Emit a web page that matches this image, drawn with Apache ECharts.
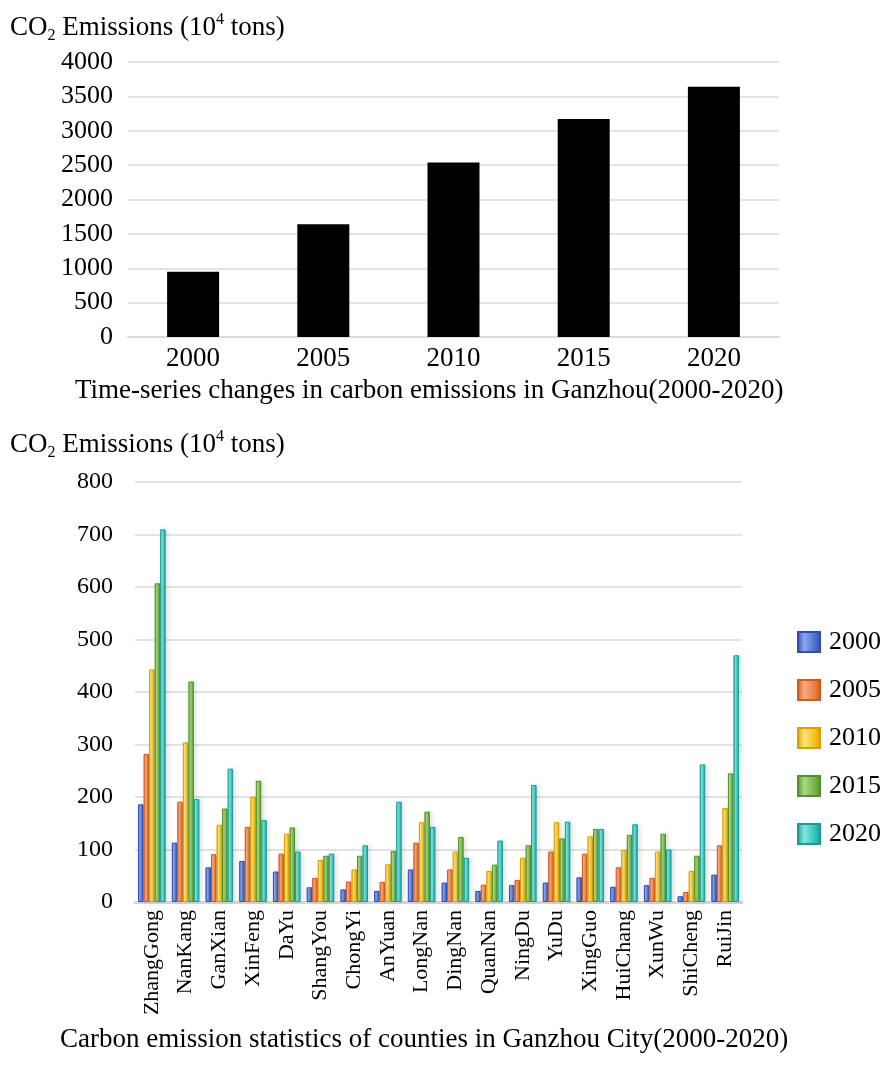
<!DOCTYPE html>
<html>
<head>
<meta charset="utf-8">
<script src="https://cdn.jsdelivr.net/npm/echarts@6/dist/echarts.min.js"></script>
<style>
  html, body { margin: 0; padding: 0; background: #ffffff; }
  #chart { width: 884px; height: 1066px; }
</style>
</head>
<body>
<div id="chart"></div>
<script>
// Ganzhou city totals, 2000-2020 (10^4 tons)
const years = ['2000', '2005', '2010', '2015', '2020'];
const cityTotals = [950, 1640, 2540, 3170, 3640];

// County-level emissions by year (10^4 tons)
const counties = ['ZhangGong', 'NanKang', 'GanXian', 'XinFeng', 'DaYu', 'ShangYou', 'ChongYi',
  'AnYuan', 'LongNan', 'DingNan', 'QuanNan', 'NingDu', 'YuDu', 'XingGuo', 'HuiChang',
  'XunWu', 'ShiCheng', 'RuiJin'];
const e2000 = [186, 113, 66, 78, 58, 28, 24, 21, 62, 37, 21, 32, 37, 47, 29, 32, 11, 52];
const e2005 = [282, 191, 91, 143, 92, 46, 39, 38, 113, 62, 33, 42, 96, 92, 66, 46, 19, 108];
const e2010 = [443, 304, 147, 200, 130, 80, 62, 72, 152, 96, 59, 84, 152, 125, 99, 96, 59, 179];
const e2015 = [607, 420, 178, 231, 142, 88, 88, 97, 172, 124, 71, 108, 121, 139, 128, 130, 88, 245];
const e2020 = [710, 196, 254, 156, 96, 92, 108, 191, 143, 84, 117, 223, 153, 139, 148, 100, 262, 470];

const topTicks = { min: 0, max: 4000, interval: 500 };
const bottomTicks = { min: 0, max: 800, interval: 100 };

const FONT = '"Liberation Serif", "Times New Roman", serif';

// shaded bar fills: dark edge, light highlight, base tone
const palette = [
  { dark: '#2e4fae', light: '#8ea6ec', base: '#4b6fd3' },
  { dark: '#cf5a1e', light: '#f7ad82', base: '#ee7b3b' },
  { dark: '#d9a000', light: '#fde27c', base: '#f6c11c' },
  { dark: '#4f9229', light: '#aad888', base: '#72b443' },
  { dark: '#199c95', light: '#86e4de', base: '#33c2bb' }
];
function shade(c) {
  return new echarts.graphic.LinearGradient(0, 0, 1, 0, [
    { offset: 0, color: c.dark },
    { offset: 0.3, color: c.light },
    { offset: 0.75, color: c.base },
    { offset: 1, color: c.dark }
  ]);
}

const countySeries = [e2000, e2005, e2010, e2015, e2020].map((vals, i) => ({
  name: years[i],
  type: 'bar',
  xAxisIndex: 1,
  yAxisIndex: 1,
  data: vals,
  barGap: '0%',
  barCategoryGap: '18%',
  itemStyle: {
    color: shade(palette[i]),
    borderColor: palette[i].dark,
    borderWidth: 1,
    shadowColor: 'rgba(0,0,0,0.12)',
    shadowBlur: 5,
    shadowOffsetX: 2
  }
}));

const titleRich = {
  a: { fontFamily: FONT, fontSize: 27, lineHeight: 32, color: '#000' },
  s: { fontFamily: FONT, fontSize: 16, lineHeight: 16, verticalAlign: 'bottom', color: '#000' },
  p: { fontFamily: FONT, fontSize: 16, lineHeight: 16, verticalAlign: 'top', color: '#000' }
};
const unitTitle = '{a|CO}{s|2}{a| Emissions (10}{p|4}{a| tons)}';

const plain = (v) => String(v);
const splitLine = { show: true, lineStyle: { color: '#e3e3e3', width: 2 } };

const option = {
  animation: false,
  backgroundColor: '#ffffff',
  textStyle: { fontFamily: FONT },
  grid: [
    { left: 128, right: 105, top: 62, height: 275 },
    { left: 135, right: 142, top: 482, height: 420 }
  ],
  legend: {
    orient: 'vertical',
    left: 792,
    top: 624,
    itemWidth: 22,
    itemHeight: 20,
    itemGap: 22,
    icon: 'rect',
    data: years,
    textStyle: { fontFamily: FONT, fontSize: 26, lineHeight: 26, color: '#000', padding: [0, 0, 0, 4] }
  },
  xAxis: [
    {
      type: 'category', gridIndex: 0, data: years,
      axisLine: { lineStyle: { color: '#dcdcdc', width: 2 } },
      axisTick: { show: false },
      axisLabel: { fontFamily: FONT, fontSize: 27, color: '#000', margin: 8 }
    },
    {
      type: 'category', gridIndex: 1, data: counties,
      axisLine: { lineStyle: { color: '#d8d8d8', width: 3 } },
      axisTick: { show: false },
      axisLabel: { fontFamily: FONT, fontSize: 22, color: '#000', rotate: 90, margin: 8, interval: 0 }
    }
  ],
  yAxis: [
    {
      type: 'value', gridIndex: 0,
      min: topTicks.min, max: topTicks.max, interval: topTicks.interval,
      axisLine: { show: false }, axisTick: { show: false },
      axisLabel: { fontFamily: FONT, fontSize: 26, color: '#000', margin: 15, formatter: plain },
      splitLine: splitLine
    },
    {
      type: 'value', gridIndex: 1,
      min: bottomTicks.min, max: bottomTicks.max, interval: bottomTicks.interval,
      axisLine: { show: false }, axisTick: { show: false },
      axisLabel: { fontFamily: FONT, fontSize: 24, color: '#000', margin: 22, formatter: plain },
      splitLine: splitLine
    }
  ],
  graphic: [
    { type: 'text', left: 10, top: 12, style: { text: unitTitle, rich: titleRich } },
    { type: 'text', left: 10, top: 429, style: { text: unitTitle, rich: titleRich } },
    {
      type: 'text', left: 75, top: 377,
      style: { text: 'Time-series changes in carbon emissions in Ganzhou(2000-2020)', fontFamily: FONT, fontSize: 27, fill: '#000' }
    },
    {
      type: 'text', left: 60, top: 1026,
      style: { text: 'Carbon emission statistics of counties in Ganzhou City(2000-2020)', fontFamily: FONT, fontSize: 27, fill: '#000' }
    }
  ],
  series: [
    {
      name: 'Ganzhou', type: 'bar', xAxisIndex: 0, yAxisIndex: 0,
      data: cityTotals, barWidth: 52,
      itemStyle: { color: '#000000' }
    }
  ].concat(countySeries)
};

const chart = echarts.init(document.getElementById('chart'), null, { renderer: 'canvas' });
chart.setOption(option);
</script>
</body>
</html>
